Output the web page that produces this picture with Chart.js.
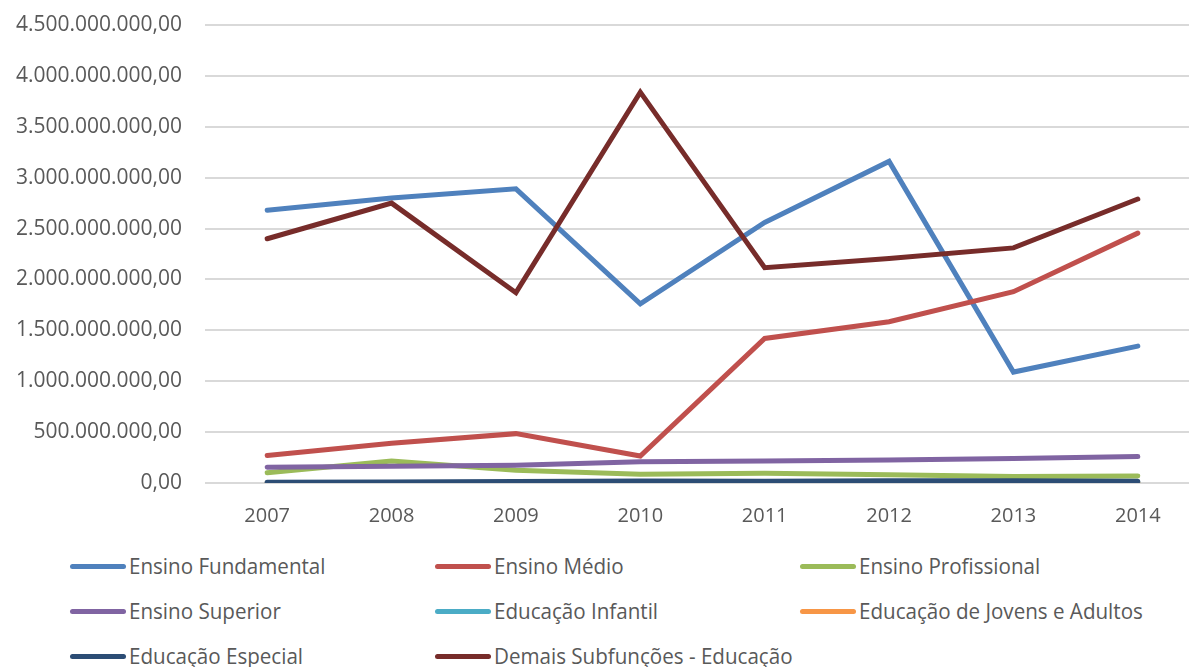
<!DOCTYPE html>
<html>
<head>
<meta charset="utf-8">
<script src="https://cdn.jsdelivr.net/npm/chart.js@4.4.0/dist/chart.umd.min.js"></script>
<style>
  html, body { margin: 0; padding: 0; background: #fff; overflow: hidden; }
  #wrap { position: relative; width: 1189px; height: 667px; overflow: hidden; }
  #box { position: absolute; left: 0; top: 0; width: 1200px; height: 540px; }
  #legend { position: absolute; left: 70px; top: 548px; width: 1100px; }
  .item { position: absolute; height: 36px; line-height: 36px; white-space: nowrap; }
  .swatch { position: absolute; left: 0; top: 16px; width: 56px; height: 5px; border-radius: 3px; }
  .txt { position: absolute; left: 59px; top: 0; font-family: "Open Sans", sans-serif; font-size: 21px;
         color: #595959; transform: scaleX(0.98); transform-origin: left center; }
</style>
</head>
<body>
<div id="wrap">
  <div id="box"><canvas id="gastosChart"></canvas></div>
  <div id="legend"></div>
</div>
<script>
var anos = ["2007", "2008", "2009", "2010", "2011", "2012", "2013", "2014"];

var ensinoFundamental = [2680000000, 2800000000, 2890000000, 1760000000, 2560000000, 3160000000, 1090000000, 1345000000];
var ensinoMedio = [270000000, 390000000, 485000000, 265000000, 1420000000, 1585000000, 1880000000, 2455000000];
var ensinoProfissional = [100000000, 215000000, 125000000, 85000000, 95000000, 80000000, 65000000, 70000000];
var ensinoSuperior = [155000000, 165000000, 175000000, 210000000, 215000000, 225000000, 240000000, 260000000];
var educacaoInfantil = [3000000, 4000000, 5000000, 6000000, 6000000, 7000000, 7000000, 6000000];
var educacaoJovensAdultos = [2000000, 3000000, 3000000, 4000000, 3000000, 3000000, 3000000, 2000000];
var educacaoEspecial = [8000000, 10000000, 14000000, 20000000, 18000000, 22000000, 22000000, 18000000];
var demaisSubfuncoes = [2400000000, 2750000000, 1870000000, 3840000000, 2115000000, 2205000000, 2310000000, 2790000000];

var series = [
  { label: "Ensino Fundamental", data: ensinoFundamental, color: "#4F81BD" },
  { label: "Ensino Médio", data: ensinoMedio, color: "#C0504D" },
  { label: "Ensino Profissional", data: ensinoProfissional, color: "#9BBB59" },
  { label: "Ensino Superior", data: ensinoSuperior, color: "#8064A2" },
  { label: "Educação Infantil", data: educacaoInfantil, color: "#4BACC6" },
  { label: "Educação de Jovens e Adultos", data: educacaoJovensAdultos, color: "#F79646" },
  { label: "Educação Especial", data: educacaoEspecial, color: "#2C4D75" },
  { label: "Demais Subfunções - Educação", data: demaisSubfuncoes, color: "#772C2A" }
];

// later series are drawn on top
var datasets = series.map(function (s, i) {
  return {
    label: s.label,
    data: s.data,
    borderColor: s.color,
    backgroundColor: s.color,
    borderWidth: 5,
    pointRadius: 0,
    borderCapStyle: "round",
    borderJoinStyle: "miter",
    tension: 0,
    order: series.length - i
  };
});

function formatBR(v) {
  return new Intl.NumberFormat("pt-BR", { minimumFractionDigits: 2, maximumFractionDigits: 2 }).format(v);
}

var ctx = document.getElementById("gastosChart").getContext("2d");
new Chart(ctx, {
  type: "line",
  data: { labels: anos, datasets: datasets },
  options: {
    responsive: true,
    maintainAspectRatio: false,
    animation: false,
    layout: { padding: 0 },
    plugins: {
      legend: { display: false },
      tooltip: { enabled: false }
    },
    scales: {
      x: {
        offset: true,
        grid: { display: false, drawTicks: false },
        border: { display: false },
        ticks: {
          color: "#595959",
          font: { family: "'Open Sans', sans-serif", size: 20 },
          padding: 21,
          maxRotation: 0
        },
        afterFit: function (scale) { scale.height = 57; }
      },
      y: {
        min: 0,
        max: 4500000000,
        grid: { color: "#D9D9D9", lineWidth: 2, drawTicks: false },
        border: { display: false },
        ticks: {
          stepSize: 500000000,
          color: "#595959",
          font: { family: "'Open Sans', sans-serif", size: 21 },
          padding: 23,
          callback: function (v) { return formatBR(v); }
        },
        afterFit: function (scale) {
          scale.width = 205;
          // tick padding would otherwise also push the plot down
          scale.paddingTop = 25;
          scale.paddingBottom = 13;
        }
      }
    }
  }
});

// legenda em três colunas, abaixo do gráfico
var legend = document.getElementById("legend");
var colX = [0, 365, 730];
series.forEach(function (s, i) {
  var item = document.createElement("div");
  item.className = "item";
  item.style.left = colX[i % 3] + "px";
  item.style.top = (Math.floor(i / 3) * 45) + "px";
  var sw = document.createElement("span");
  sw.className = "swatch";
  sw.style.background = s.color;
  var t = document.createElement("span");
  t.className = "txt";
  t.textContent = s.label;
  item.appendChild(sw);
  item.appendChild(t);
  legend.appendChild(item);
});
</script>
</body>
</html>
